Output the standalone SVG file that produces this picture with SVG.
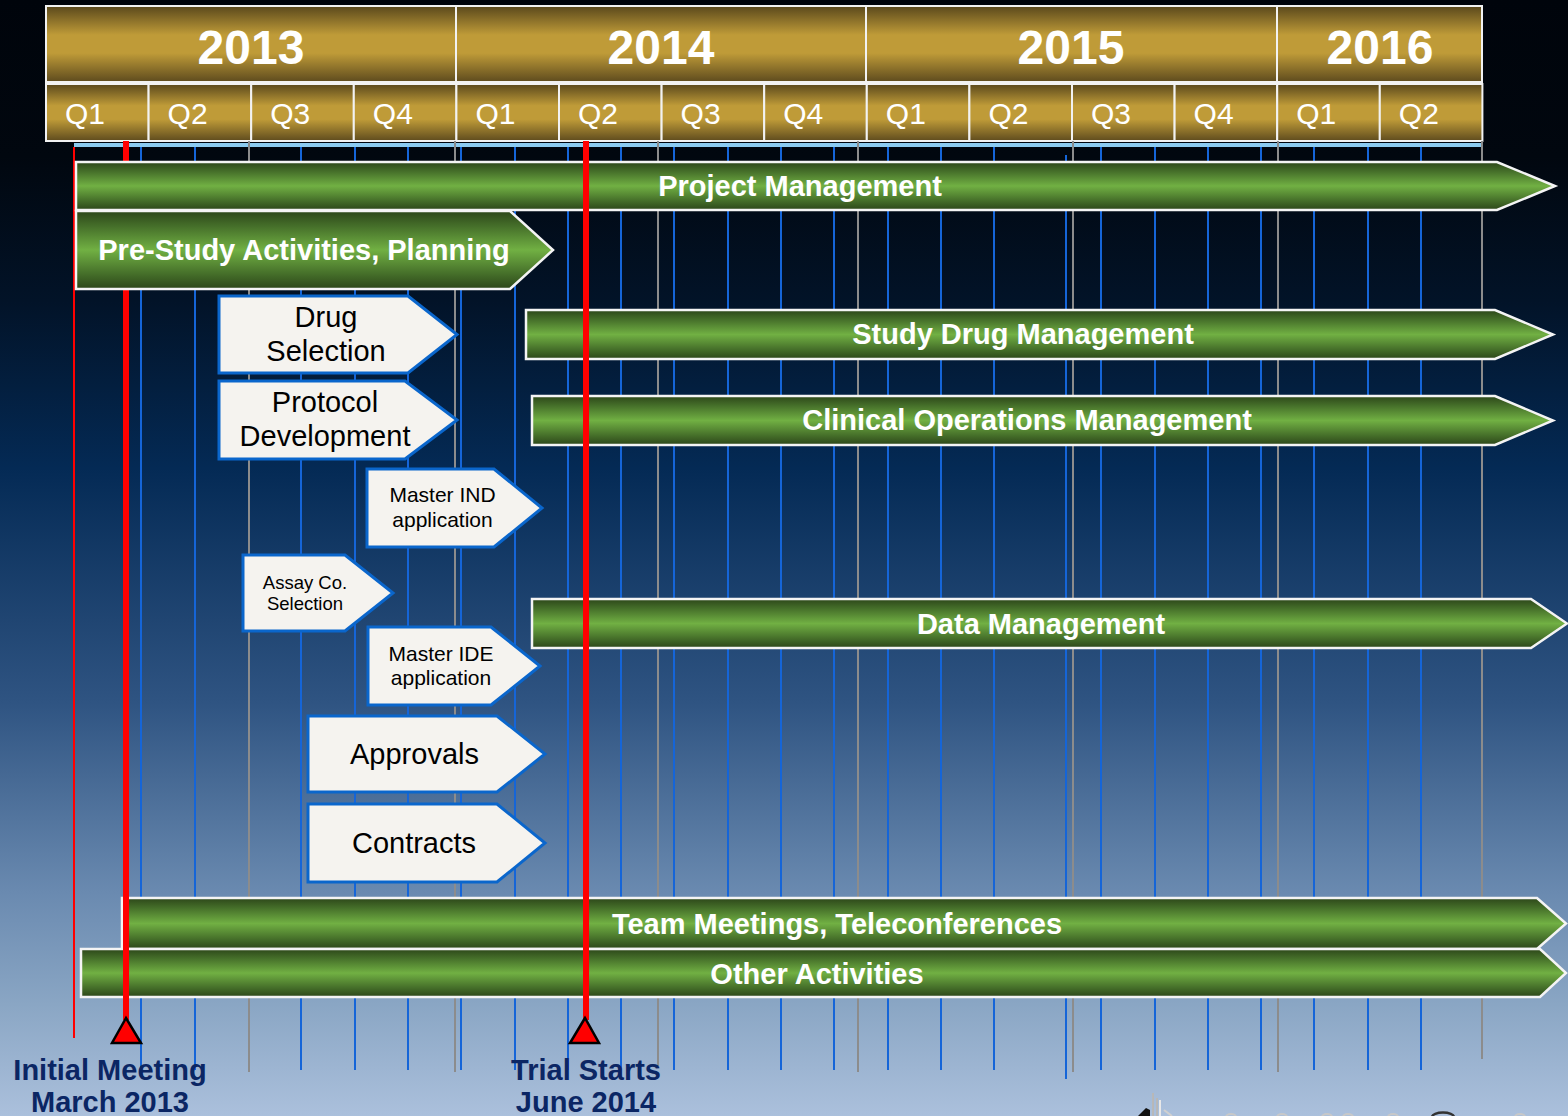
<svg xmlns="http://www.w3.org/2000/svg" width="1568" height="1116" viewBox="0 0 1568 1116">
<defs>
<linearGradient id="bg" x1="0" y1="0" x2="0" y2="1">
<stop offset="0" stop-color="#00040b"/>
<stop offset="0.14" stop-color="#01070f"/>
<stop offset="0.27" stop-color="#021328"/>
<stop offset="0.42" stop-color="#042a55"/>
<stop offset="0.63" stop-color="#2f5482"/>
<stop offset="0.8" stop-color="#6a8ab0"/>
<stop offset="0.9" stop-color="#8aa6c4"/>
<stop offset="1" stop-color="#abc0dc"/>
</linearGradient>
<linearGradient id="gold" x1="0" y1="0" x2="0" y2="1">
<stop offset="0" stop-color="#5a481c"/>
<stop offset="0.38" stop-color="#bf9b38"/>
<stop offset="0.62" stop-color="#bf9b38"/>
<stop offset="1" stop-color="#5e4b1e"/>
</linearGradient>
<linearGradient id="green" x1="0" y1="0" x2="0" y2="1">
<stop offset="0" stop-color="#2c4619"/>
<stop offset="0.2" stop-color="#46702a"/>
<stop offset="0.5" stop-color="#71b043"/>
<stop offset="0.8" stop-color="#46702a"/>
<stop offset="1" stop-color="#2c4619"/>
</linearGradient>
<style>
.yr{fill:url(#gold);stroke:#f2f2f2;stroke-width:2}
.yt{font-family:"Liberation Sans",Arial,sans-serif;font-weight:bold;font-size:48px;fill:#ffffff;text-anchor:middle}
.qt{font-family:"Liberation Sans",Arial,sans-serif;font-size:30px;fill:#ffffff}
.gb{stroke:#1565d8;stroke-width:2}
.gg{stroke:#8c8c8c;stroke-width:2}
.bar{fill:url(#green);stroke:#f4f4f4;stroke-width:2.5}
.bt{font-family:"Liberation Sans",Arial,sans-serif;font-weight:bold;font-size:29px;fill:#ffffff;text-anchor:middle}
.box{fill:#f5f3ef;stroke:#0a66cc;stroke-width:3}
.wt{font-family:"Liberation Sans",Arial,sans-serif;fill:#000000;text-anchor:middle}
.ml{stroke:#ff0000;stroke-width:6}
.tri{fill:#ff0000;stroke:#000000;stroke-width:2.5}
.lbl{font-family:"Liberation Sans",Arial,sans-serif;font-weight:bold;font-size:29px;fill:#0b2664;text-anchor:middle}
</style>
</defs>
<rect x="0" y="0" width="1568" height="1116" fill="url(#bg)"/>

<g id="header">
<rect class="yr" x="46" y="6" width="410" height="76"/>
<rect class="yr" x="456" y="6" width="410" height="76"/>
<rect class="yr" x="866" y="6" width="411" height="76"/>
<rect class="yr" x="1277" y="6" width="205" height="76"/>
<text class="yt" x="251" y="64">2013</text>
<text class="yt" x="661" y="64">2014</text>
<text class="yt" x="1071" y="64">2015</text>
<text class="yt" x="1380" y="64">2016</text>
<rect class="yr" x="46" y="84" width="102.6" height="57"/>
<rect class="yr" x="148.6" y="84" width="102.6" height="57"/>
<rect class="yr" x="251.2" y="84" width="102.6" height="57"/>
<rect class="yr" x="353.8" y="84" width="102.6" height="57"/>
<rect class="yr" x="456.4" y="84" width="102.6" height="57"/>
<rect class="yr" x="559" y="84" width="102.6" height="57"/>
<rect class="yr" x="661.6" y="84" width="102.6" height="57"/>
<rect class="yr" x="764.2" y="84" width="102.6" height="57"/>
<rect class="yr" x="866.8" y="84" width="102.6" height="57"/>
<rect class="yr" x="969.4" y="84" width="102.6" height="57"/>
<rect class="yr" x="1072" y="84" width="102.6" height="57"/>
<rect class="yr" x="1174.6" y="84" width="102.6" height="57"/>
<rect class="yr" x="1277.2" y="84" width="102.6" height="57"/>
<rect class="yr" x="1379.8" y="84" width="102.6" height="57"/>
<text class="qt" x="65" y="124">Q1</text>
<text class="qt" x="167.6" y="124">Q2</text>
<text class="qt" x="270.2" y="124">Q3</text>
<text class="qt" x="372.8" y="124">Q4</text>
<text class="qt" x="475.4" y="124">Q1</text>
<text class="qt" x="578" y="124">Q2</text>
<text class="qt" x="680.6" y="124">Q3</text>
<text class="qt" x="783.2" y="124">Q4</text>
<text class="qt" x="885.8" y="124">Q1</text>
<text class="qt" x="988.4" y="124">Q2</text>
<text class="qt" x="1091" y="124">Q3</text>
<text class="qt" x="1193.6" y="124">Q4</text>
<text class="qt" x="1296.2" y="124">Q1</text>
<text class="qt" x="1398.8" y="124">Q2</text>
</g>

<g id="grid">
<rect x="74" y="143" width="1408" height="4" fill="#8ccbf0"/>
<path class="gg" d="M249 141V1072M455 141V1072M658 141V1066M858 141V1072M1073 141V1072M1278 141V1072M1482 141V1059"/>
<path class="gb" d="M141 147V1070M195 147V1070M301 147V1070M355 147V1070M408 147V1070M461 147V1070M515 147V1070M568 147V1070M621 147V1070M674 147V1070M728 147V1070M781 147V1070M834 147V1070M888 147V1070M941 147V1070M994 147V1070M1066 155V1079M1101 147V1070M1155 147V1070M1208 147V1070M1261 147V1070M1314 147V1070M1368 147V1070M1421 147V1070"/>
<line x1="74" y1="147" x2="74" y2="1038" stroke="#ff0000" stroke-width="2"/>
<line class="ml" x1="126" y1="141" x2="126" y2="1020"/>
</g>

<g id="project-management">
<polygon class="bar" points="76,162 1497,162 1555,186 1497,210 76,210"/>
<text class="bt" x="800" y="196">Project Management</text>
</g>
<g id="pre-study">
<polygon class="bar" points="76,211 510,211 553,250 510,289 76,289"/>
<text class="bt" x="304" y="260">Pre-Study Activities, Planning</text>
</g>
<g id="study-drug-management">
<polygon class="bar" points="526,310 1495,310 1553,334.5 1495,359 526,359"/>
<text class="bt" x="1023" y="344">Study Drug Management</text>
</g>
<g id="clinical-operations-management">
<polygon class="bar" points="532,396 1495,396 1553,420.5 1495,445 532,445"/>
<text class="bt" x="1027" y="430">Clinical Operations Management</text>
</g>
<g id="data-management">
<polygon class="bar" points="532,599 1531,599 1567,623.5 1531,648 532,648"/>
<text class="bt" x="1041" y="634">Data Management</text>
</g>
<g id="team-meetings">
<polygon class="bar" points="122,898 1537,898 1566,923.5 1537,949 122,949"/>
<text class="bt" x="837" y="934">Team Meetings, Teleconferences</text>
</g>
<g id="other-activities">
<polygon class="bar" points="81,949 1540,949 1566,973 1540,997 81,997"/>
<text class="bt" x="817" y="984">Other Activities</text>
</g>

<g id="drug-selection">
<polygon class="box" points="219,296 408,296 457,334.5 408,373 219,373"/>
<text class="wt" x="326" y="327" font-size="29">Drug</text>
<text class="wt" x="326" y="361" font-size="29">Selection</text>
</g>
<g id="protocol-development">
<polygon class="box" points="219,381 405,381 457,420 405,459 219,459"/>
<text class="wt" x="325" y="412" font-size="29">Protocol</text>
<text class="wt" x="325" y="446" font-size="29">Development</text>
</g>
<g id="master-ind">
<polygon class="box" points="367,469 494,469 542,508 494,547 367,547"/>
<text class="wt" x="442.5" y="502" font-size="21">Master IND</text>
<text class="wt" x="442.5" y="527" font-size="21">application</text>
</g>
<g id="assay-selection">
<polygon class="box" points="243,555 345,555 393,593 345,631 243,631"/>
<text class="wt" x="305" y="589" font-size="18.5">Assay Co.</text>
<text class="wt" x="305" y="610" font-size="18.5">Selection</text>
</g>
<g id="master-ide">
<polygon class="box" points="368,627 491,627 540,666 491,705 368,705"/>
<text class="wt" x="441" y="661" font-size="21">Master IDE</text>
<text class="wt" x="441" y="685" font-size="21">application</text>
</g>
<g id="approvals">
<polygon class="box" points="308,716 497,716 545,754 497,792 308,792"/>
<text class="wt" x="414.5" y="764" font-size="29">Approvals</text>
</g>
<g id="contracts">
<polygon class="box" points="308,804 497,804 545,843 497,882 308,882"/>
<text class="wt" x="414" y="853" font-size="29">Contracts</text>
</g>

<g id="connectors">
<line class="ml" x1="126" y1="896" x2="126" y2="1020"/>
<line class="ml" x1="586" y1="141" x2="586" y2="1020"/>
</g>

<g id="milestone-initial">
<polygon class="tri" points="126,1018 112,1043 141,1043"/>
<text class="lbl" x="110" y="1080">Initial Meeting</text>
<text class="lbl" x="110" y="1112">March 2013</text>
</g>
<g id="milestone-trial">
<polygon class="tri" points="585,1018 570,1043 599,1043"/>
<text class="lbl" x="586" y="1080">Trial Starts</text>
<text class="lbl" x="586" y="1112">June 2014</text>
</g>

<g id="logo">
<path d="M1138 1116 L1146 1108 L1150 1110 L1150 1116 Z" fill="#111111"/>
<path d="M1153 1116 V1093 M1157 1116 V1098 M1160 1116 V1100" stroke="#e8e8e8" stroke-width="2" fill="none"/>
<path d="M1153 1116 V1093 M1157 1116 V1098" stroke="#707070" stroke-width="0.8" fill="none"/>
<path d="M1164 1110 L1172 1116" stroke="#d0d0d0" stroke-width="2"/>
<g fill="none" stroke="#c8c8c8" stroke-width="2">
<path d="M1226 1117 a5 3 0 0 1 10 0"/>
<path d="M1277 1117 a5 3 0 0 1 10 0"/>
<path d="M1322 1117 a5 3 0 0 1 10 0"/>
<path d="M1343 1117 a5 3 0 0 1 10 0"/>
<path d="M1388 1117 a5 3 0 0 1 10 0"/>
<path d="M1515 1117 a5 3 0 0 1 10 0"/>
</g>
<path d="M1432 1117 a10 4 0 0 1 22 0" fill="none" stroke="#333333" stroke-width="2.5"/>
</g>
</svg>
